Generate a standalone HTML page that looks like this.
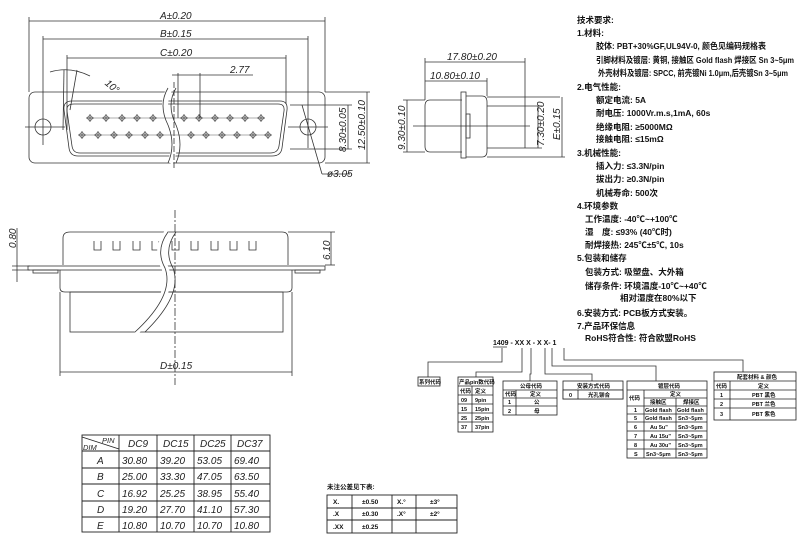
<!DOCTYPE html>
<html><head><meta charset="utf-8"><style>
html,body{margin:0;padding:0;background:#fff;}
svg{display:block}
.t{font-family:"Liberation Sans",sans-serif;font-style:italic;font-size:10px;fill:#222}
.c{font-family:"Liberation Sans","Noto Sans CJK SC",sans-serif;font-weight:bold;font-size:8.5px;fill:#111}
.s{font-family:"Liberation Sans","Noto Sans CJK SC",sans-serif;font-weight:bold;font-size:5.5px;fill:#111}
</style></head><body>
<svg width="800" height="542" viewBox="0 0 800 542" xmlns="http://www.w3.org/2000/svg">
<defs><g id="p"><circle r="2.3" fill="none" stroke="#333" stroke-width="0.7"/><line x1="-4" y1="0" x2="4" y2="0" stroke="#333" stroke-width="0.7"/><line x1="0" y1="-4" x2="0" y2="4" stroke="#333" stroke-width="0.7"/></g></defs>
<g fill="none" stroke="#333" stroke-width="0.8">
<rect x="29" y="92" width="296" height="71" rx="6"/>
<path d="M72 101 L280 101 Q288 101 287 110 L282 148 Q281 156 272 156 L78 156 Q70 156 69 148 L64 110 Q63 101 72 101 Z"/>
<path d="M74 104 L278 104 Q285 104 284 111 L279 146 Q278 153 270 153 L80 153 Q73 153 72 146 L67 111 Q66 104 74 104 Z"/>
<circle cx="43" cy="127" r="8"/><circle cx="308" cy="127" r="8"/>
<line x1="25" y1="127" x2="65" y2="127"/><line x1="288" y1="127" x2="328" y2="127"/>
<line x1="43" y1="36" x2="43" y2="145"/><line x1="308" y1="36" x2="308" y2="148"/>
<line x1="29" y1="17" x2="29" y2="92"/><line x1="325" y1="17" x2="325" y2="92"/>
<line x1="67" y1="55" x2="67" y2="130"/><line x1="286" y1="55" x2="286" y2="104"/>
<line x1="29" y1="21" x2="325" y2="21"/><line x1="43" y1="39" x2="308" y2="39"/><line x1="67" y1="58" x2="286" y2="58"/>
<line x1="172" y1="75" x2="253" y2="75"/><line x1="178" y1="73" x2="178" y2="118"/><line x1="200" y1="73" x2="200" y2="118"/>
<path d="M50 72 Q70 66 90 76"/><line x1="64" y1="70" x2="63" y2="130"/><line x1="77" y1="70" x2="70" y2="110"/>
<path d="M170 88 Q160 105 170 125 Q178 145 170 163" stroke="#fff" stroke-width="6"/>
<path d="M168 88 Q158 105 168 125 Q176 145 168 163"/><path d="M176 88 Q166 105 176 125 Q184 145 176 163"/>
<line x1="174" y1="82" x2="174" y2="170" stroke-dasharray="6 2"/>
<line x1="290" y1="105" x2="352" y2="105"/><line x1="290" y1="149" x2="352" y2="149"/>
<line x1="348" y1="105" x2="348" y2="149"/>
<line x1="325" y1="92" x2="370" y2="92"/><line x1="325" y1="163" x2="370" y2="163"/>
<line x1="367" y1="92" x2="367" y2="163"/>
<line x1="302" y1="105" x2="322" y2="174"/><line x1="322" y1="174" x2="350" y2="174"/>
<line x1="88" y1="118" x2="265" y2="118" stroke-width="0.4"/>
<line x1="80" y1="135" x2="270" y2="135" stroke-width="0.4"/>
</g>
<use href="#p" x="90" y="118"/><use href="#p" x="106" y="118"/><use href="#p" x="122" y="118"/><use href="#p" x="137" y="118"/><use href="#p" x="153" y="118"/>
<use href="#p" x="184" y="118"/><use href="#p" x="199" y="118"/><use href="#p" x="215" y="118"/><use href="#p" x="230" y="118"/><use href="#p" x="245" y="118"/><use href="#p" x="261" y="118"/>
<use href="#p" x="82" y="135"/><use href="#p" x="98" y="135"/><use href="#p" x="114" y="135"/><use href="#p" x="129" y="135"/><use href="#p" x="145" y="135"/><use href="#p" x="160" y="135"/>
<use href="#p" x="191" y="135"/><use href="#p" x="206" y="135"/><use href="#p" x="222" y="135"/><use href="#p" x="237" y="135"/><use href="#p" x="253" y="135"/><use href="#p" x="268" y="135"/>
<text class="t" x="160" y="19">A±0.20</text>
<text class="t" x="160" y="37">B±0.15</text>
<text class="t" x="160" y="56">C±0.20</text>
<text class="t" x="230" y="73">2.77</text>
<text class="t" x="105" y="88" transform="rotate(40 110 85)">10°</text>
<text class="t" x="327" y="177">ø3.05</text>
<text class="t" transform="translate(346,152) rotate(-90)">8.30±0.05</text>
<text class="t" transform="translate(365,150) rotate(-90)">12.50±0.10</text>

<g fill="none" stroke="#333" stroke-width="0.8">
<path d="M63 265 L63 238 Q63 232 70 232 L282 232 Q288 232 288 238 L288 265"/>
<rect x="28" y="266" width="297" height="4"/>
<rect x="33" y="270" width="25" height="3"/><rect x="295" y="270" width="25" height="3"/>
<path d="M60 270 L60 288 Q60 292 65 292 L287 292 Q292 292 292 288 L292 270"/>
<rect x="70" y="292" width="213" height="40"/>
<path d="M94 241 v9 h7 v-9 M113 241 v9 h7 v-9 M133 241 v9 h7 v-9 M152 241 v9 h7 v-9 M172 241 v9 h7 v-9 M191 241 v9 h7 v-9 M211 241 v9 h7 v-9 M230 241 v9 h7 v-9 M249 241 v9 h7 v-9"/>
<path d="M168 232 Q155 250 165 268 Q175 295 135 332" stroke="#fff" stroke-width="7"/>
<path d="M168 232 Q155 250 165 268 Q175 295 135 332"/><path d="M176 232 Q163 250 173 268 Q183 295 145 332"/>
<line x1="175" y1="210" x2="175" y2="385" stroke-dasharray="8 2 2 2"/>
<line x1="60" y1="292" x2="60" y2="376"/><line x1="292" y1="292" x2="292" y2="376"/>
<line x1="60" y1="372" x2="292" y2="372"/>
<line x1="288" y1="232" x2="335" y2="232"/><line x1="325" y1="265" x2="335" y2="265"/><line x1="331" y1="232" x2="331" y2="265"/>
<line x1="12" y1="266" x2="30" y2="266"/><line x1="12" y1="270" x2="30" y2="270"/><line x1="17" y1="228" x2="17" y2="282"/>
</g>
<text class="t" x="160" y="369">D±0.15</text>
<text class="t" transform="translate(16,248) rotate(-90)">0.80</text>
<text class="t" transform="translate(330,260) rotate(-90)">6.10</text>

<g fill="none" stroke="#333" stroke-width="0.8">
<path d="M462 100 L430 100 Q425 100 425 106 L425 146 Q425 152 430 152 L462 152"/>
<rect x="461" y="92" width="5" height="66"/>
<rect x="466" y="114" width="4" height="24"/>
<path d="M466 96 L482 96 Q487 96 487 102 L487 151 Q487 157 482 157 L466 157"/>
<line x1="487" y1="97" x2="560" y2="97"/><line x1="487" y1="106" x2="542" y2="106"/>
<line x1="487" y1="148" x2="542" y2="148"/><line x1="487" y1="157" x2="565" y2="157"/>
<line x1="413" y1="126" x2="530" y2="126"/>
<line x1="425" y1="58" x2="425" y2="100"/><line x1="525" y1="58" x2="525" y2="148"/><line x1="487" y1="78" x2="487" y2="96"/>
<line x1="425" y1="62" x2="525" y2="62"/><line x1="425" y1="81" x2="487" y2="81"/>
<line x1="403" y1="100" x2="425" y2="100"/><line x1="403" y1="152" x2="425" y2="152"/><line x1="407" y1="100" x2="407" y2="152"/>
<line x1="538" y1="106" x2="538" y2="148"/><line x1="562" y1="97" x2="562" y2="157"/>
</g>
<text class="t" x="447" y="60">17.80±0.20</text>
<text class="t" x="430" y="79">10.80±0.10</text>
<text class="t" transform="translate(405,150) rotate(-90)">9.30±0.10</text>
<text class="t" transform="translate(544,146) rotate(-90)">7.30±0.20</text>
<text class="t" transform="translate(560,140) rotate(-90)">E±0.15</text>

<text class="c" x="577" y="23">技术要求:</text>
<text class="c" x="577" y="36">1.材料:</text>
<text class="c" x="596" y="49" textLength="170" lengthAdjust="spacingAndGlyphs">胶体: PBT+30%GF,UL94V-0, 颜色见编码规格表</text>
<text class="c" x="596" y="63" textLength="198" lengthAdjust="spacingAndGlyphs">引脚材料及镀层: 黄铜, 接触区 Gold flash 焊接区 Sn 3~5μm</text>
<text class="c" x="598" y="76" textLength="190" lengthAdjust="spacingAndGlyphs">外壳材料及镀层: SPCC, 前壳镀Ni 1.0μm,后壳镀Sn 3~5μm</text>
<text class="c" x="577" y="90">2.电气性能:</text>
<text class="c" x="596" y="103">额定电流: 5A</text>
<text class="c" x="596" y="116">耐电压: 1000Vr.m.s,1mA, 60s</text>
<text class="c" x="596" y="130">绝缘电阻: ≥5000MΩ</text>
<text class="c" x="596" y="142">接触电阻: ≤15mΩ</text>
<text class="c" x="577" y="156">3.机械性能:</text>
<text class="c" x="596" y="169">插入力: ≤3.3N/pin</text>
<text class="c" x="596" y="182">拔出力: ≥0.3N/pin</text>
<text class="c" x="596" y="196">机械寿命: 500次</text>
<text class="c" x="577" y="209">4.环境参数</text>
<text class="c" x="585" y="222">工作温度: -40℃~+100℃</text>
<text class="c" x="585" y="235">湿　度: ≤93% (40℃时)</text>
<text class="c" x="585" y="248">耐焊接热: 245℃±5℃, 10s</text>
<text class="c" x="577" y="261">5.包装和储存</text>
<text class="c" x="585" y="275">包装方式: 吸塑盘、大外箱</text>
<text class="c" x="585" y="289">储存条件: 环境温度-10℃~+40℃</text>
<text class="c" x="620" y="301">相对湿度在80%以下</text>
<text class="c" x="577" y="316">6.安装方式: PCB板方式安装。</text>
<text class="c" x="577" y="329">7.产品环保信息</text>
<text class="c" x="585" y="341">RoHS符合性: 符合欧盟RoHS</text>

<text class="c" x="493" y="345" style="font-size:7px">1409 - XX X - X X- 1</text>
<g fill="none" stroke="#333" stroke-width="0.8">
<line x1="493" y1="347" x2="507" y2="347"/>
<polyline points="502,348 502,362 428,362 428,377"/>
<polyline points="522,348 522,372 476,372 476,377"/>
<polyline points="531,348 531,374 530,374 530,381"/>
<polyline points="545,348 545,374 592,374 592,381"/>
<polyline points="552,348 552,366 656,366 656,381"/>
<polyline points="564,348 564,360 743,360 743,372"/>
</g>
<g fill="none" stroke="#222" stroke-width="0.8">
<rect x="418" y="377" width="22" height="9"/>
<rect x="458" y="377" width="35" height="55"/>
<line x1="458" y1="386" x2="493" y2="386"/><line x1="458" y1="395" x2="493" y2="395"/><line x1="458" y1="404" x2="493" y2="404"/><line x1="458" y1="413" x2="493" y2="413"/><line x1="458" y1="422" x2="493" y2="422"/><line x1="472" y1="386" x2="472" y2="432"/>
<rect x="503" y="381" width="54" height="34"/>
<line x1="503" y1="390" x2="557" y2="390"/><line x1="503" y1="398" x2="557" y2="398"/><line x1="503" y1="406" x2="557" y2="406"/><line x1="516" y1="390" x2="516" y2="415"/>
<rect x="563" y="381" width="60" height="18"/>
<line x1="563" y1="390" x2="623" y2="390"/><line x1="578" y1="390" x2="578" y2="399"/>
<rect x="627" y="381" width="80" height="77"/>
<line x1="627" y1="390" x2="707" y2="390"/><line x1="644" y1="398" x2="707" y2="398"/><line x1="627" y1="406" x2="707" y2="406"/>
<line x1="627" y1="414" x2="707" y2="414"/><line x1="627" y1="422" x2="707" y2="422"/><line x1="627" y1="431" x2="707" y2="431"/><line x1="627" y1="440" x2="707" y2="440"/><line x1="627" y1="449" x2="707" y2="449"/>
<line x1="644" y1="390" x2="644" y2="458"/><line x1="676" y1="398" x2="676" y2="458"/>
<rect x="714" y="372" width="82" height="48"/>
<line x1="714" y1="381" x2="796" y2="381"/><line x1="714" y1="390" x2="796" y2="390"/><line x1="714" y1="399" x2="796" y2="399"/><line x1="714" y1="408" x2="796" y2="408"/><line x1="730" y1="381" x2="730" y2="420"/>
</g>
<text class="s" x="419" y="384">系列代码</text>
<text class="s" x="459" y="384">产品pin数代码</text>
<text class="s" x="460" y="393">代码</text><text class="s" x="475" y="393">定义</text>
<text class="s" x="461" y="402">09</text><text class="s" x="475" y="402">9pin</text>
<text class="s" x="461" y="411">15</text><text class="s" x="475" y="411">15pin</text>
<text class="s" x="461" y="420">25</text><text class="s" x="475" y="420">25pin</text>
<text class="s" x="461" y="429">37</text><text class="s" x="475" y="429">37pin</text>
<text class="s" x="520" y="388">公母代码</text>
<text class="s" x="505" y="396">代码</text><text class="s" x="530" y="396">定义</text>
<text class="s" x="508" y="404">1</text><text class="s" x="534" y="404">公</text>
<text class="s" x="508" y="413">2</text><text class="s" x="534" y="413">母</text>
<text class="s" x="577" y="388">安装方式代码</text>
<text class="s" x="565" y="397">代码</text><text class="s" x="594" y="397">定义</text>
<text class="s" x="658" y="388">镀层代码</text>
<text class="s" x="629" y="400">代码</text><text class="s" x="670" y="396">定义</text>
<text class="s" x="650" y="404">接触区</text><text class="s" x="683" y="404">焊接区</text>
<text class="s" x="634" y="412">1</text><text class="s" x="645" y="412">Gold flash</text><text class="s" x="677" y="412">Gold flash</text>
<text class="s" x="634" y="420">5</text><text class="s" x="645" y="420">Gold flash</text><text class="s" x="678" y="420">Sn3~5μm</text>
<text class="s" x="634" y="429">6</text><text class="s" x="650" y="429">Au 5u"</text><text class="s" x="678" y="429">Sn3~5μm</text>
<text class="s" x="634" y="438">7</text><text class="s" x="650" y="438">Au 15u"</text><text class="s" x="678" y="438">Sn3~5μm</text>
<text class="s" x="634" y="447">8</text><text class="s" x="650" y="447">Au 30u"</text><text class="s" x="678" y="447">Sn3~5μm</text>
<text class="s" x="634" y="456">S</text><text class="s" x="646" y="456">Sn3~5μm</text><text class="s" x="678" y="456">Sn3~5μm</text>
<text class="s" x="737" y="379">配套材料 & 颜色</text>
<text class="s" x="716" y="388">代码</text><text class="s" x="758" y="388">定义</text>
<text class="s" x="720" y="397">1</text><text class="s" x="752" y="397">PBT 黑色</text>
<text class="s" x="720" y="406">2</text><text class="s" x="752" y="406">PBT 兰色</text>
<text class="s" x="720" y="416">3</text><text class="s" x="752" y="416">PBT 紫色</text>

<rect x="563" y="390" width="60" height="9" fill="#fff" stroke="#222" stroke-width="0.8"/>
<line x1="578" y1="390" x2="578" y2="399" stroke="#222" stroke-width="0.8"/>
<text class="s" x="569" y="397">0</text><text class="s" x="588" y="397">光孔铆合</text>

<g fill="none" stroke="#222" stroke-width="0.9">
<rect x="82" y="435" width="188" height="97"/>
<line x1="82" y1="451" x2="270" y2="451"/><line x1="82" y1="468" x2="270" y2="468"/><line x1="82" y1="484" x2="270" y2="484"/><line x1="82" y1="501" x2="270" y2="501"/><line x1="82" y1="517" x2="270" y2="517"/>
<line x1="119" y1="435" x2="119" y2="532"/><line x1="157" y1="435" x2="157" y2="532"/><line x1="194" y1="435" x2="194" y2="532"/><line x1="231" y1="435" x2="231" y2="532"/>
<line x1="82" y1="437" x2="119" y2="449"/>
</g>
<g class="t" style="font-size:10px">
<text x="102" y="443" style="font-size:7.5px">PIN</text><text x="83" y="450" style="font-size:7.5px">DIM</text>
<text x="128" y="447">DC9</text><text x="163" y="447">DC15</text><text x="200" y="447">DC25</text><text x="237" y="447">DC37</text>
<text x="97" y="464">A</text><text x="122" y="464">30.80</text><text x="160" y="464">39.20</text><text x="197" y="464">53.05</text><text x="234" y="464">69.40</text>
<text x="97" y="480">B</text><text x="122" y="480">25.00</text><text x="160" y="480">33.30</text><text x="197" y="480">47.05</text><text x="234" y="480">63.50</text>
<text x="97" y="497">C</text><text x="122" y="497">16.92</text><text x="160" y="497">25.25</text><text x="197" y="497">38.95</text><text x="234" y="497">55.40</text>
<text x="97" y="513">D</text><text x="122" y="513">19.20</text><text x="160" y="513">27.70</text><text x="197" y="513">41.10</text><text x="234" y="513">57.30</text>
<text x="97" y="529">E</text><text x="122" y="529">10.80</text><text x="160" y="529">10.70</text><text x="197" y="529">10.70</text><text x="234" y="529">10.80</text>
</g>

<text class="s" x="327" y="489" style="font-size:6.5px">未注公差见下表:</text>
<g fill="none" stroke="#222" stroke-width="0.9">
<rect x="327" y="495" width="130" height="38"/>
<line x1="327" y1="508" x2="457" y2="508"/><line x1="327" y1="520" x2="457" y2="520"/>
<line x1="352" y1="495" x2="352" y2="533"/><line x1="392" y1="495" x2="392" y2="533"/><line x1="416" y1="495" x2="416" y2="533"/>
</g>
<g class="s" style="font-size:6.5px">
<text x="333" y="504">X.</text><text x="362" y="504">±0.50</text><text x="397" y="504">X.°</text><text x="430" y="504">±3°</text>
<text x="333" y="516">.X</text><text x="362" y="516">±0.30</text><text x="397" y="516">.X°</text><text x="430" y="516">±2°</text>
<text x="333" y="529">.XX</text><text x="362" y="529">±0.25</text>
</g>
</svg>
</body></html>
